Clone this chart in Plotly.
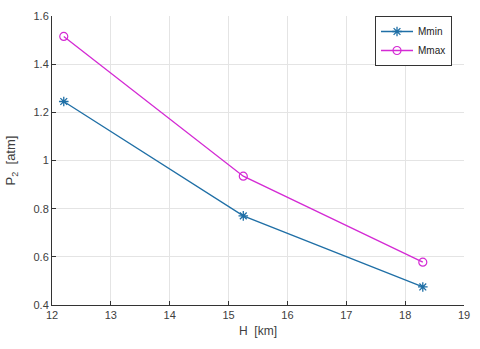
import plotly.graph_objects as go

H = [12.2, 15.25, 18.3]
Mmin = [1.245, 0.77, 0.475]
Mmax = [1.515, 0.935, 0.578]
x_ticks = [12, 13, 14, 15, 16, 17, 18, 19]
y_ticks = [0.4, 0.6, 0.8, 1.0, 1.2, 1.4, 1.6]
y_tick_text = ["0.4", "0.6", "0.8", "1", "1.2", "1.4", "1.6"]

blue = "#1f6fa6"
mag = "#d42ad4"

fig = go.Figure()
fig.add_trace(go.Scatter(x=H, y=Mmin, name="Mmin", mode="lines+markers",
                         line=dict(color=blue, width=1.3),
                         marker=dict(symbol="asterisk-open", size=8,
                                     line=dict(color=blue, width=1.3), color=blue)))
fig.add_trace(go.Scatter(x=H, y=Mmax, name="Mmax", mode="lines+markers",
                         line=dict(color=mag, width=1.3),
                         marker=dict(symbol="circle-open", size=8,
                                     line=dict(color=mag, width=1.2), color=mag)))

axis_font = dict(family="Liberation Sans, Arial, sans-serif", size=11, color="#404040")
fig.update_layout(
    width=480, height=349,
    margin=dict(l=52, r=12, t=10, b=44),
    paper_bgcolor="white", plot_bgcolor="white",
    font=axis_font,
    legend=dict(x=0.784, y=1.0, xanchor="left", yanchor="top",
                bgcolor="white", bordercolor="#333333", borderwidth=1,
                font=dict(size=10, color="#222222"),
                tracegroupgap=0, itemwidth=32),
    showlegend=True,
)
fig.update_xaxes(range=[12, 19], tickvals=x_ticks, showgrid=True,
                 gridcolor="#e4e4e4", gridwidth=1, zeroline=False,
                 showline=True, linecolor="#333333", linewidth=1,
                 ticks="inside", ticklen=4, tickcolor="#333333",
                 ticklabeloverflow="allow",
                 title=dict(text="H  [km]", font=dict(size=12, color="#404040"), standoff=6))
fig.update_yaxes(range=[0.4, 1.6], tickvals=y_ticks, ticktext=y_tick_text, showgrid=True,
                 gridcolor="#e4e4e4", gridwidth=1, zeroline=False,
                 showline=True, linecolor="#333333", linewidth=1,
                 ticks="inside", ticklen=4, tickcolor="#333333",
                 ticklabeloverflow="allow",
                 title=dict(text="P<sub>2</sub>  [atm]", font=dict(size=13, color="#404040"), standoff=14))

fig.write_html("out.html", config={"displayModeBar": False},
               post_script="document.body.style.margin='0';")
